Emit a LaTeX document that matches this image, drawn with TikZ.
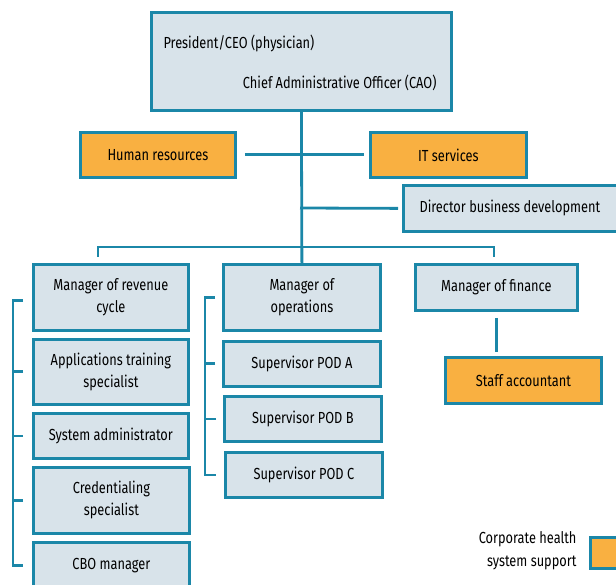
\documentclass[tikz,border=0pt]{standalone}
\usepackage{fontspec}
\setmainfont{Fira Sans}[FakeStretch=0.8]
\definecolor{teal}{HTML}{1B87A8}
\definecolor{lightbox}{HTML}{D8E3EA}
\definecolor{orangebox}{HTML}{F9B041}
\tikzset{
  txt/.style={font=\fontsize{16}{22}\selectfont},
  box/.style={draw=teal, line width=2.8pt, fill=lightbox, anchor=north west, align=center, inner sep=2pt, txt},
  obox/.style={box, fill=orangebox},
  conn/.style={draw=teal, line width=2.8pt}
}
\begin{document}
\begin{tikzpicture}[x=1pt,y=-1pt]
\useasboundingbox (0,0) rectangle (616,585);
% top
\node[box, minimum width=300pt, minimum height=98pt] (ceo) at (150,11) {};
\node[anchor=west, txt] (ceot1) at (160,43) {President/CEO (physician)};
\node[anchor=east, txt] (ceot2) at (440,83) {Chief Administrative Officer (CAO)};
\node[obox, minimum width=155pt, minimum height=45pt] (hr) at (79,131) {Human resources};
\node[obox, minimum width=156pt, minimum height=45pt] (it) at (369,131) {IT services};
\node[box, minimum width=230pt, minimum height=46pt] (dir) at (402,184) {};
\node[anchor=west, txt] (dirt) at (416,208) {Director business development};
% managers
\node[box, minimum width=155pt, minimum height=66pt] (rev) at (32,263) {Manager of revenue\\cycle};
\node[box, minimum width=157pt, minimum height=66pt] (ops) at (222,263) {Manager of\\operations};
\node[box, minimum width=162pt, minimum height=46pt] (fin) at (414,263) {Manager of finance};
\node[obox, minimum width=156pt, minimum height=46pt] (staff) at (444,356) {Staff accountant};
% left column
\node[box, minimum width=155pt, minimum height=65pt] (app) at (32,338) {Applications training\\specialist};
\node[box, minimum width=155pt, minimum height=45pt] (sys) at (32,412) {System administrator};
\node[box, minimum width=156pt, minimum height=66pt] (cred) at (32,466) {Credentialing\\specialist};
\node[box, minimum width=156pt, minimum height=46pt] (cbo) at (32,541) {CBO manager};
% middle column
\node[box, minimum width=157pt, minimum height=45pt] (poda) at (222,340) {Supervisor POD A};
\node[box, minimum width=157pt, minimum height=45pt] (podb) at (223,395) {Supervisor POD B};
\node[box, minimum width=157pt, minimum height=45pt] (podc) at (224,451) {Supervisor POD C};
% legend
\node[anchor=east, align=right, font=\fontsize{16}{23}\selectfont] (legt) at (580,551) {Corporate health\\system support};
\node[obox, minimum width=32pt, minimum height=31pt] (legb) at (589,536) {};
% connectors
\coordinate (jd) at (300,208);
\coordinate (jb) at (300,247);
\coordinate (dl) at (98,257);
\coordinate (dr) at (494,257);
\draw[conn] (ceo.south) -- (ops.north);
\draw[conn, shorten <=8pt, shorten >=5pt] (hr.east) -- (it.west);
\draw[conn, shorten >=4pt] (jd) -- (dir.west);
\draw[conn] (dl) |- (jb) -| (dr);
\draw[conn, shorten <=6pt, shorten >=4pt] (fin.south) -- (fin.south |- staff.north);
% left bracket
\draw[conn] ([xshift=-9pt,yshift=-3pt]rev.west) -- ++(-10pt,0) |- ([xshift=-9pt]cbo.west);
\foreach \n in {app,sys,cred}{\draw[conn] ([xshift=-9pt]\n.west) -- ++(-10pt,0);}
% middle bracket
\draw[conn] ([xshift=-7pt]ops.west) -- ++(-10pt,0) |- ([xshift=-8pt]podc.west);
\foreach \n in {poda,podb}{\draw[conn] ([xshift=-7pt]\n.west) -- ++(-10pt,0);}
\end{tikzpicture}
\end{document}
